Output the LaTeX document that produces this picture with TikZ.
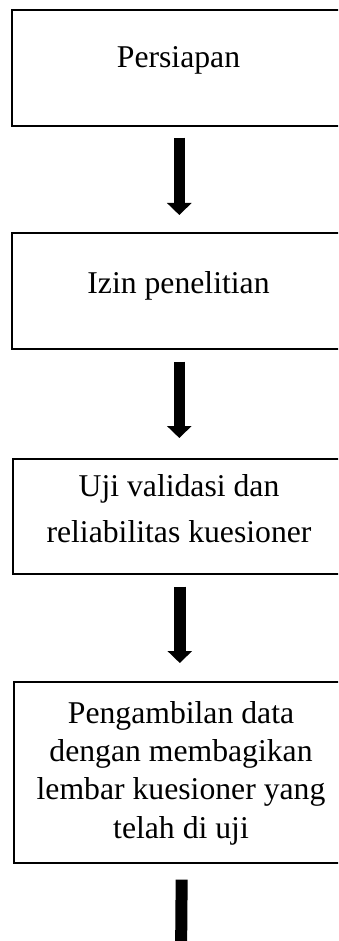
\documentclass[tikz,border=0pt]{standalone}
\usepackage{fontspec}
\setmainfont{Liberation Serif}
\usetikzlibrary{arrows.meta}
\begin{document}
\begin{tikzpicture}[x=1pt,y=-1pt,
  box/.style={draw=black, line width=1.6pt, rectangle, anchor=north west, inner sep=0pt},
  lbl/.style={anchor=base, inner sep=0pt, font=\fontsize{31.7}{38}\selectfont},
  arr/.style={line width=11.5pt, -{Triangle[width=24pt,length=12pt]}},
  shaft/.style={line width=12pt}]
\useasboundingbox (0,0) rectangle (338,941);
\clip (0,0) rectangle (338,941);
% boxes
\node[box, minimum width=335pt, minimum height=116pt] (b1) at (11,9) {};
\node[box, minimum width=335pt, minimum height=116pt] (b2) at (11,232) {};
\node[box, minimum width=334pt, minimum height=115pt] (b3) at (12,458) {};
\node[box, minimum width=336pt, minimum height=181pt] (b4) at (13,681) {};
% texts
\node[lbl] (t1) at (178.5,68) {Persiapan};
\node[lbl] (t2) at (178.5,293) {Izin penelitian};
\node[lbl] (t3a) at (179,496) {Uji validasi dan};
\node[lbl] (t3b) at (179,542) {reliabilitas kuesioner};
\node[lbl] (t4a) at (181,723) {Pengambilan data};
\node[lbl] (t4b) at (181,761) {dengan membagikan};
\node[lbl] (t4c) at (181,799) {lembar kuesioner yang};
\node[lbl] (t4d) at (181,838) {telah di uji};
% arrows
\draw[arr, shorten <=11pt, shorten >=17pt] (b1.south) -- (b1.south |- b2.north);
\draw[arr, shorten <=12pt, shorten >=20pt] (b2.south) -- (b2.south |- b3.north);
\draw[arr, shorten <=12pt, shorten >=18pt] (b3.south) -- (b3.south |- b4.north);
\coordinate (end) at (181,960);
\draw[shaft, shorten <=16pt] (b4.south) -- (end);
\end{tikzpicture}
\end{document}
